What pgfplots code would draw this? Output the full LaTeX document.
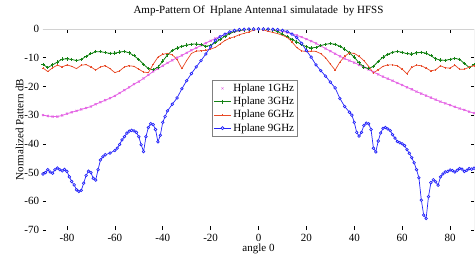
\documentclass[border=0pt]{standalone}
\usepackage{fontspec}
\setmainfont{Liberation Serif}
\usepackage{pgfplots}
\pgfplotsset{compat=1.18}
\definecolor{cmag}{RGB}{228,100,228}
\definecolor{cgrn}{RGB}{20,130,20}
\definecolor{cred}{RGB}{232,75,40}
\definecolor{cblu}{RGB}{35,35,250}
\newcommand{\ff}{\fontsize{11bp}{13bp}\selectfont}
\begin{document}
\ff
\begin{tikzpicture}
\useasboundingbox (-43bp,-27bp) rectangle (432bp,230bp);
\begin{axis}[
  scale only axis, width=431bp, height=201bp,
  xmin=-90, xmax=90, ymin=-70, ymax=0,
  xtick={-80,-60,...,80}, ytick={-70,-60,...,0},
  tick align=inside, major tick length=3.5bp,
  axis line style={draw=none},
  tick style={black, line width=0.6pt},
  /pgf/number format/assume math mode=true,
  ticklabel style={font=\ff},
  title={Amp-Pattern Of\ \ Hplane Antenna1 simulatade\ \ by HFSS},
  title style={at={(axis description cs:0.5,1.061)}, anchor=center, font=\ff},
  xlabel={angle 0},
  xlabel style={at={(axis description cs:0.5,-0.0945)}, anchor=center, font=\ff},
  ylabel={Normalized Pattern dB},
  ylabel style={at={(axis description cs:-0.0545,0.5)}, anchor=center, font=\ff},
  legend style={at={(axis description cs:0.392,0.746)}, anchor=north west, draw=gray, font=\ff, inner sep=1.5bp, row sep=0bp, cells={anchor=west}},
  legend cell align=left,
]
\addlegendimage{only marks, mark=x, cmag, mark size=1.5bp}
\addlegendimage{cgrn, mark=+, mark size=2bp, line width=0.7pt}
\addlegendimage{cred, mark=+, mark size=1bp, line width=0.7pt}
\addlegendimage{cblu, mark=*, mark options={fill=white}, mark size=1.5bp, line width=0.7pt}
\legend{Hplane 1GHz, Hplane 3GHz, Hplane 6GHz, Hplane 9GHz}

% 1 GHz
\addplot[forget plot, cmag, line width=0.8pt, mark=x, mark size=1.4bp] coordinates {
(-90,-30) (-88,-30.3) (-86,-30.5) (-84,-30.5) (-82,-30.1) (-80,-29.5) (-78,-29) (-76,-28.5) (-74,-28) (-72,-27.5) (-70,-27) (-68,-26.2) (-66,-25.5) (-64,-24.8) (-62,-24.1) (-60,-23.3) (-58,-22.3) (-56,-21.3) (-54,-20.3) (-52,-19.2) (-50,-18.3) (-48,-17.2) (-46,-16) (-44,-14.8) (-42,-13.8) (-40,-12.8) (-38,-11.8) (-36,-10.9) (-34,-10) (-32,-9.2) (-30,-8.3) (-28,-7.4) (-26,-6.6) (-24,-5.7) (-22,-4.9) (-20,-4.1) (-18,-3.3) (-16,-2.6) (-14,-1.9) (-12,-1.4) (-10,-0.9) (-8,-0.6) (-6,-0.3) (-4,-0.15) (-2,-0.05) (0,0) (2,-0.05) (4,-0.15) (6,-0.3) (8,-0.5) (10,-0.8) (12,-1.2) (14,-1.7) (16,-2.2) (18,-2.8) (20,-3.5) (22,-4.2) (24,-5) (26,-5.9) (28,-6.8) (30,-7.7) (32,-8.6) (34,-9.5) (36,-10.3) (38,-11) (40,-11.7) (42,-12.5) (44,-13.3) (46,-14.1) (48,-15) (50,-15.8) (52,-16.6) (54,-17.3) (56,-18) (58,-18.8) (60,-19.5) (62,-20.3) (64,-21) (66,-21.8) (68,-22.5) (70,-23.2) (72,-23.9) (74,-24.6) (76,-25.3) (78,-25.9) (80,-26.5) (82,-27.1) (84,-27.7) (86,-28.2) (88,-28.8) (90,-29.3)
};

% 3 GHz
\addplot[forget plot, cgrn, line width=0.8pt, mark=+, mark size=1.7bp] coordinates {
(-90,-12.4) (-88,-13.4) (-86,-12.5) (-84,-11.5) (-82,-10.5) (-80,-10.4) (-78,-10.6) (-76,-11) (-74,-10.6) (-72,-9.5) (-70,-8.6) (-68,-7.9) (-66,-7.9) (-64,-8.2) (-62,-8.5) (-60,-8.4) (-58,-8) (-56,-7.8) (-54,-8.3) (-52,-9.3) (-50,-10.6) (-48,-12.3) (-46,-13.8) (-44,-14.2) (-42,-13.3) (-40,-11.2) (-38,-9) (-36,-7.5) (-34,-6.6) (-32,-6) (-30,-5.6) (-28,-5.3) (-26,-5.2) (-24,-5.5) (-22,-6) (-20,-5.7) (-18,-4.7) (-16,-3.6) (-14,-2.5) (-12,-1.6) (-10,-0.9) (-8,-0.5) (-6,-0.3) (-4,-0.1) (-2,0) (0,0) (2,0) (4,-0.1) (6,-0.3) (8,-0.9) (10,-1.8) (12,-2.7) (14,-3.6) (16,-4.5) (18,-5.4) (20,-6.2) (22,-6.6) (24,-6.4) (26,-5.8) (28,-5.3) (30,-5.1) (32,-5.3) (34,-6) (36,-7) (38,-8.3) (40,-9.8) (42,-11.8) (44,-13.2) (46,-13.8) (48,-13) (50,-11.3) (52,-9.8) (54,-8.8) (56,-8.1) (58,-7.8) (60,-8.1) (62,-8.6) (64,-8.7) (66,-8.3) (68,-8.1) (70,-8.4) (72,-9.3) (74,-10.4) (76,-10.8) (78,-10.9) (80,-10.6) (82,-10.2) (84,-10.6) (86,-12) (88,-13.4) (90,-12.5)
};

% 6 GHz
\addplot[forget plot, cred, line width=0.7pt, mark=+, mark size=0.8bp] coordinates {
(-90,-13.6) (-88,-14.8) (-86,-13.5) (-84,-12.6) (-82,-13.2) (-80,-12.5) (-78,-13) (-76,-13.8) (-74,-12.6) (-72,-12.4) (-70,-13.2) (-68,-14.3) (-66,-13.2) (-64,-12.8) (-62,-13.8) (-60,-15.2) (-58,-14.6) (-56,-13.2) (-54,-12.8) (-52,-13) (-50,-14) (-48,-15) (-46,-15.2) (-44,-12.3) (-42,-9.8) (-40,-8.8) (-38,-8.5) (-36,-9) (-34,-10.6) (-32,-13.8) (-30,-11) (-28,-8.5) (-26,-7.7) (-24,-7.6) (-22,-7.4) (-20,-7) (-18,-6.4) (-16,-5.2) (-14,-4) (-12,-3.2) (-10,-2.7) (-8,-2) (-6,-1.5) (-4,-1) (-2,-0.4) (0,0) (2,-0.3) (4,-0.8) (6,-1.2) (8,-1.6) (10,-2.2) (12,-2.9) (14,-4.5) (16,-6.5) (18,-7.6) (20,-7.9) (22,-7.7) (24,-7.8) (26,-8.6) (28,-10) (30,-12.2) (32,-14.3) (34,-11.5) (36,-9.5) (38,-8.3) (40,-8.5) (42,-9.5) (44,-11) (46,-13) (48,-15.3) (50,-14.2) (52,-13) (54,-12.5) (56,-12.5) (58,-12.8) (60,-14) (62,-15.6) (64,-13.3) (66,-12.6) (68,-12.8) (70,-13.6) (72,-14.6) (74,-14.2) (76,-12.8) (78,-13.5) (80,-13.6) (82,-12.6) (84,-14) (86,-14) (88,-13.3) (90,-12.8)
};

% 9 GHz
\addplot[forget plot, cblu, line width=0.7pt, mark=*, mark options={fill=white}, mark size=1.3bp] coordinates {
(-90,-50.5) (-89,-50) (-88,-49) (-87,-49.8) (-86,-50.2) (-85,-49) (-84,-48.4) (-83,-49) (-82,-49.4) (-81,-48.9) (-80,-49.6) (-79,-51.5) (-78,-53.1) (-77,-54.3) (-76,-56) (-75,-56.6) (-74,-56.2) (-73,-53.7) (-72,-51) (-71,-49.5) (-70,-50) (-69,-52) (-68,-52.6) (-67,-49) (-66,-45.6) (-65,-44.5) (-64,-43.8) (-62,-43.2) (-60,-42.3) (-59,-41.5) (-58,-40.2) (-57,-38.6) (-56,-37.5) (-55,-36.3) (-54,-35.6) (-53,-35.3) (-52,-35.5) (-51,-36) (-50,-37.5) (-49,-40.3) (-48,-42.7) (-47,-37.5) (-46,-34.3) (-45,-33) (-44,-33.3) (-43,-35) (-42,-39.3) (-41,-37) (-40,-32.5) (-39,-30.5) (-38,-28.5) (-36,-26.2) (-34,-24) (-32,-20.8) (-30,-18) (-28,-15.5) (-26,-13.2) (-24,-11) (-22,-8.7) (-20,-6.2) (-18,-3.9) (-16,-2.7) (-14,-1.8) (-12,-1) (-10,-0.5) (-8,-0.2) (-6,-0.1) (-4,0) (-2,0) (0,0) (2,0) (4,0) (6,-0.1) (8,-0.2) (10,-0.5) (12,-0.9) (14,-1.8) (16,-3) (18,-5) (20,-7.5) (22,-9.8) (24,-12.5) (26,-14.5) (28,-16.4) (30,-18.5) (32,-20.5) (34,-24.2) (36,-27) (38,-29) (39,-30) (40,-32.5) (41,-36) (42,-37.3) (43,-36) (44,-33.6) (45,-32.8) (46,-33) (47,-35) (48,-41.5) (49,-42.8) (50,-39) (51,-36.2) (52,-34.6) (53,-34.3) (54,-34.8) (55,-35.4) (56,-36.8) (57,-38) (58,-39.2) (59,-39.6) (60,-40) (61,-40.6) (62,-42) (63,-43.3) (64,-44.8) (65,-46.6) (66,-49) (67,-51.8) (68,-59.6) (69,-64.8) (70,-66) (71,-58.4) (72,-53.5) (73,-52.5) (74,-53.2) (75,-54.4) (76,-51.5) (77,-50.5) (78,-49.8) (79,-49.6) (80,-49.1) (81,-49.3) (82,-49.8) (83,-49.2) (84,-48.6) (85,-48.8) (86,-49.6) (87,-49.2) (88,-48.6) (89,-48.8) (90,-48.5)
};

\draw[black, line width=0.9pt] (rel axis cs:0,0) -- (rel axis cs:1,0);
\draw[gray!35, line width=0.6pt] (rel axis cs:0,1) -- (rel axis cs:1,1);
\draw[gray!70, line width=0.6pt] (rel axis cs:1,0) -- (rel axis cs:1,1);
\end{axis}
\end{tikzpicture}
\end{document}
